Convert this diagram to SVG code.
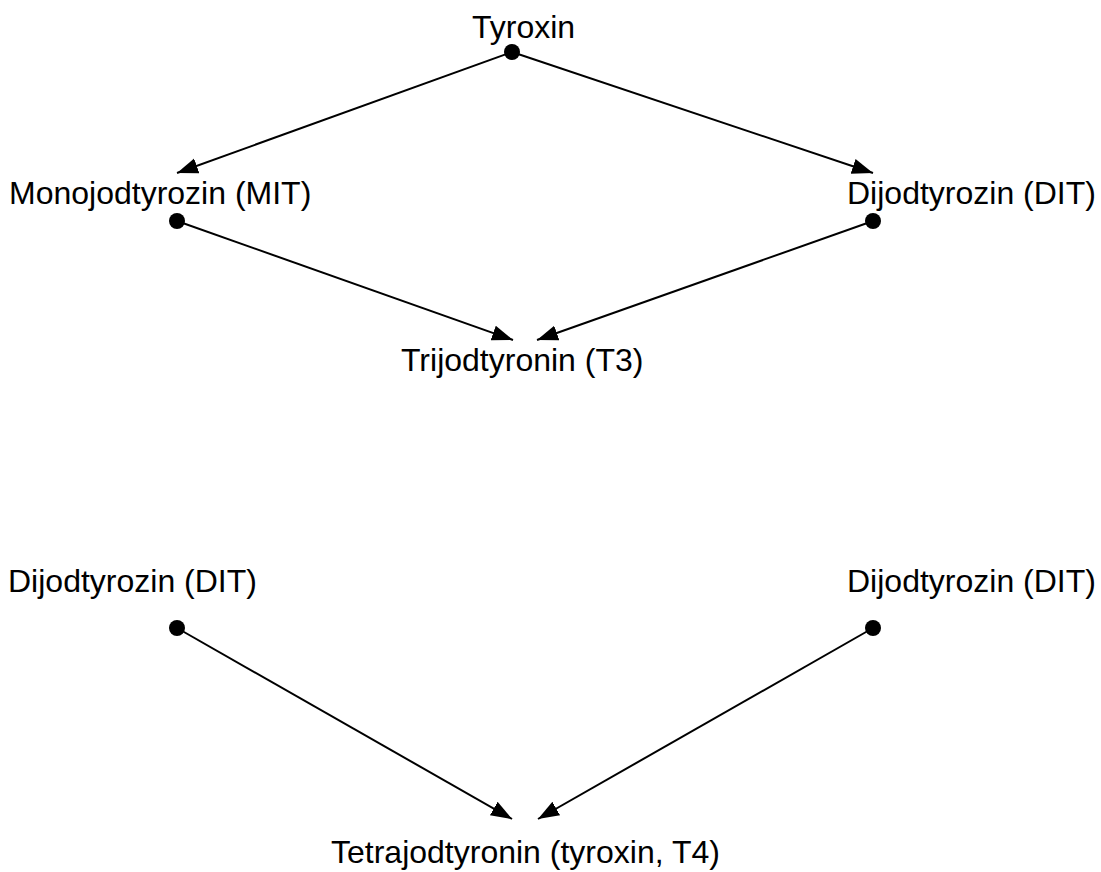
<svg xmlns="http://www.w3.org/2000/svg" width="1101" height="872" viewBox="0 0 1101 872">
<style>
text { font-family: "Liberation Sans", Arial, sans-serif; font-size: 32px; fill: #000; }
.edge { stroke: #000; stroke-width: 2; fill: none; marker-end: url(#arrow); }
.dot { fill: #000; }
</style>
<defs>
<marker id="arrow" viewBox="0 0 10 10" refX="10" refY="5" markerWidth="10.5" markerHeight="10.5" markerUnits="strokeWidth" orient="auto">
<path d="M0,1.3 L10,5 L0,8.7 Z" fill="#000"/>
</marker>
</defs>
<rect width="1101" height="872" fill="#fff"/>
<g id="connectors">
<line class="edge" x1="512" y1="52" x2="177" y2="173"/>
<line class="edge" x1="512" y1="52" x2="873" y2="173"/>
<line class="edge" x1="177" y1="221" x2="513" y2="340"/>
<line class="edge" x1="873" y1="221" x2="537" y2="340"/>
<line class="edge" x1="177" y1="628" x2="512" y2="819"/>
<line class="edge" x1="873" y1="628" x2="538" y2="819"/>
<circle class="dot" cx="512" cy="52" r="8"/>
<circle class="dot" cx="177" cy="221" r="8"/>
<circle class="dot" cx="873" cy="221" r="8"/>
<circle class="dot" cx="177" cy="628" r="8"/>
<circle class="dot" cx="873" cy="628" r="8"/>
</g>
<g id="tyroxin"><text x="472" y="38">Tyroxin</text></g>
<g id="mit"><text x="9" y="204">Monojodtyrozin (MIT)</text></g>
<g id="dit1"><text x="847" y="204">Dijodtyrozin (DIT)</text></g>
<g id="t3"><text x="401" y="371">Trijodtyronin (T3)</text></g>
<g id="dit2"><text x="8" y="592">Dijodtyrozin (DIT)</text></g>
<g id="dit3"><text x="847" y="592">Dijodtyrozin (DIT)</text></g>
<g id="t4"><text x="331" y="863">Tetrajodtyronin (tyroxin, T4)</text></g>
</svg>
